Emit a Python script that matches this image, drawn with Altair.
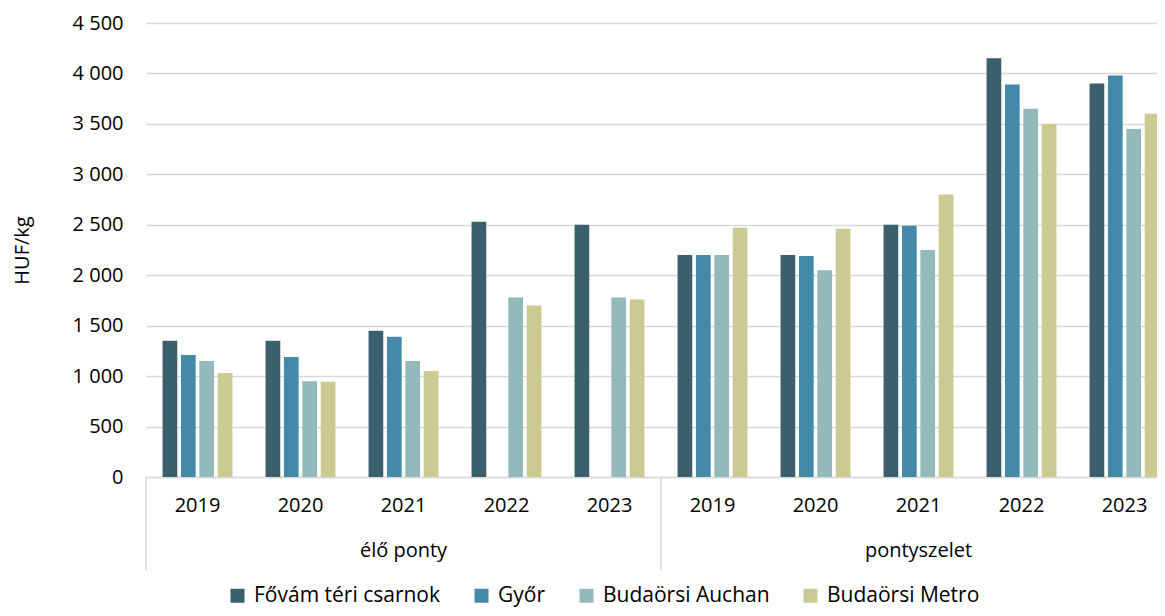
import altair as alt
import pandas as pd

products = ["élő ponty", "pontyszelet"]
years = ["2019", "2020", "2021", "2022", "2023"]
series = ["Fővám téri csarnok", "Győr", "Budaörsi Auchan", "Budaörsi Metro"]
colors = ["#3c5f6e", "#4589a8", "#93b9bb", "#cbca93"]

fovam = [1350, 1350, 1450, 2530, 2500, 2200, 2200, 2500, 4150, 3900]
gyor = [1210, 1190, 1390, None, None, 2200, 2190, 2490, 3890, 3980]
auchan = [1150, 950, 1150, 1780, 1780, 2200, 2050, 2250, 3650, 3450]
metro = [1030, 945, 1050, 1700, 1760, 2470, 2460, 2800, 3500, 3600]

y_ticks = [0, 500, 1000, 1500, 2000, 2500, 3000, 3500, 4000, 4500]

FONT = "Open Sans"
FS = 20
GRID = "#d9d9d9"
W, H = 1011, 454
XRANGE = 1030

keys = [f"{p}|{y}" for p in products for y in years]
rows = []
for s, vals in zip(series, [fovam, gyor, auchan, metro]):
    for k, v in zip(keys, vals):
        if v is not None:
            rows.append({"key": k, "series": s, "value": v})
df = pd.DataFrame(rows)

grp = pd.DataFrame({
    "product": products,
    "first": [f"{p}|{years[0]}" for p in products],
    "mid": [f"{p}|{years[2]}" for p in products],
})

xscale = alt.Scale(domain=keys, range=[0, XRANGE], paddingInner=0, paddingOuter=0)

bars = alt.Chart(df).mark_bar().encode(
    x=alt.X("key:N", scale=xscale, sort=keys, title=None,
            axis=alt.Axis(labelExpr="split(datum.label, '|')[1]", labelAngle=0,
                          labelFont=FONT, labelFontSize=FS, labelColor="#000000",
                          labelPadding=18, ticks=False, domainColor=GRID,
                          domainWidth=1.5, grid=False)),
    xOffset=alt.XOffset("series:N", scale=alt.Scale(domain=series, paddingInner=0.2, paddingOuter=0.9)),
    y=alt.Y("value:Q", scale=alt.Scale(domain=[0, 4500], nice=False),
            title="HUF/kg",
            axis=alt.Axis(values=y_ticks, labelExpr="replace(format(datum.value, ','), ',', ' ')",
                          labelFont=FONT, labelFontSize=FS, labelColor="#000000",
                          labelPadding=23, ticks=False, domain=False,
                          gridColor=GRID, gridWidth=1.5,
                          titleFont=FONT, titleFontSize=FS, titleFontWeight="normal",
                          titleColor="#000000", titlePadding=40)),
    color=alt.Color("series:N", scale=alt.Scale(domain=series, range=colors), title=None,
                    legend=alt.Legend(orient="none", direction="horizontal",
                                      legendX=81, legendY=562,
                                      symbolType="square", symbolSize=196,
                                      symbolStrokeWidth=0, labelFont=FONT,
                                      labelFontSize=21, labelColor="#000000",
                                      labelLimit=0, columnPadding=30, labelOffset=6)),
)

dividers = alt.Chart(grp).mark_rule(color=GRID, strokeWidth=1.5).encode(
    x=alt.X("first:N", scale=xscale, bandPosition=0),
    y=alt.value(H),
    y2=alt.value(H + 93),
)

labels = alt.Chart(grp).mark_text(font=FONT, fontSize=FS, color="#000000", baseline="middle").encode(
    x=alt.X("mid:N", scale=xscale),
    y=alt.value(H + 74),
    text="product:N",
)

chart = alt.layer(bars, dividers, labels).properties(
    width=W, height=H,
    autosize=alt.AutoSizeParams(type="none"),
    padding={"left": 138, "top": 15, "right": 0, "bottom": 131},
).configure_view(stroke=None)

chart.save("out.html", embed_options={"renderer": "svg", "actions": False})
